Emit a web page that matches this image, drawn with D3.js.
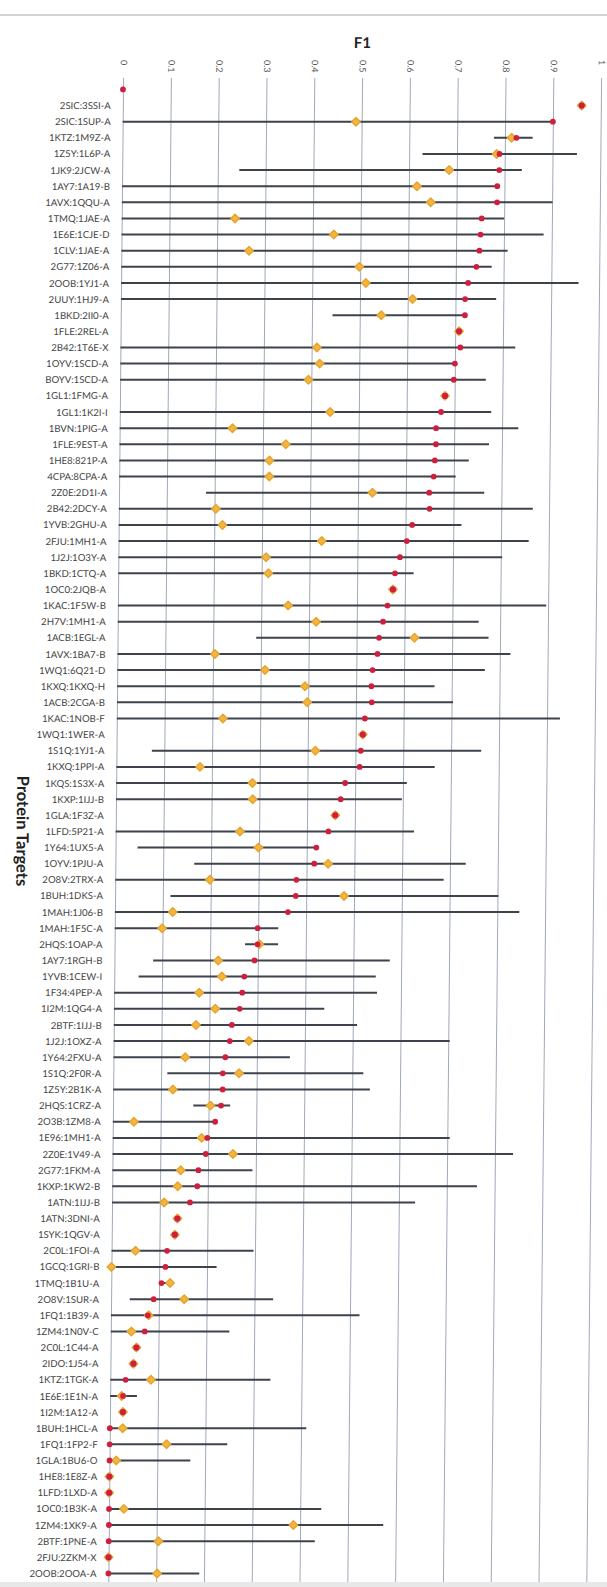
<!DOCTYPE html>
<html>
<head>
<meta charset="utf-8">
<script src="https://cdn.jsdelivr.net/npm/d3@7"></script>
<style>
  html, body { margin: 0; padding: 0; background: #ffffff; }
  svg { display: block; }
  text { font-family: Lato, "Open Sans", "DejaVu Sans", sans-serif; }
</style>
</head>
<body>
<svg id="chart" width="607" height="1587"></svg>
<script>
// Docked protein pairs, one row each (first row is an unlabeled reference point)
const categories = [
  "", "2SIC:3SSI-A", "2SIC:1SUP-A", "1KTZ:1M9Z-A", "1Z5Y:1L6P-A", "1JK9:2JCW-A",
  "1AY7:1A19-B", "1AVX:1QQU-A", "1TMQ:1JAE-A", "1E6E:1CJE-D", "1CLV:1JAE-A",
  "2G77:1Z06-A", "2OOB:1YJ1-A", "2UUY:1HJ9-A", "1BKD:2II0-A", "1FLE:2REL-A",
  "2B42:1T6E-X", "1OYV:1SCD-A", "BOYV:1SCD-A", "1GL1:1FMG-A", "1GL1:1K2I-I",
  "1BVN:1PIG-A", "1FLE:9EST-A", "1HE8:821P-A", "4CPA:8CPA-A", "2Z0E:2D1I-A",
  "2B42:2DCY-A", "1YVB:2GHU-A", "2FJU:1MH1-A", "1J2J:1O3Y-A", "1BKD:1CTQ-A",
  "1OC0:2JQB-A", "1KAC:1F5W-B", "2H7V:1MH1-A", "1ACB:1EGL-A", "1AVX:1BA7-B",
  "1WQ1:6Q21-D", "1KXQ:1KXQ-H", "1ACB:2CGA-B", "1KAC:1NOB-F", "1WQ1:1WER-A",
  "1S1Q:1YJ1-A", "1KXQ:1PPI-A", "1KQS:1S3X-A", "1KXP:1IJJ-B", "1GLA:1F3Z-A",
  "1LFD:5P21-A", "1Y64:1UX5-A", "1OYV:1PJU-A", "2O8V:2TRX-A", "1BUH:1DKS-A",
  "1MAH:1J06-B", "1MAH:1F5C-A", "2HQS:1OAP-A", "1AY7:1RGH-B", "1YVB:1CEW-I",
  "1F34:4PEP-A", "1I2M:1QG4-A", "2BTF:1IJJ-B", "1J2J:1OXZ-A", "1Y64:2FXU-A",
  "1S1Q:2F0R-A", "1Z5Y:2B1K-A", "2HQS:1CRZ-A", "2O3B:1ZM8-A", "1E96:1MH1-A",
  "2Z0E:1V49-A", "2G77:1FKM-A", "1KXP:1KW2-B", "1ATN:1IJJ-B", "1ATN:3DNI-A",
  "1SYK:1QGV-A", "2C0L:1FOI-A", "1GCQ:1GRI-B", "1TMQ:1B1U-A", "2O8V:1SUR-A",
  "1FQ1:1B39-A", "1ZM4:1N0V-C", "2C0L:1C44-A", "2IDO:1J54-A", "1KTZ:1TGK-A",
  "1E6E:1E1N-A", "1I2M:1A12-A", "1BUH:1HCL-A", "1FQ1:1FP2-F", "1GLA:1BU6-O",
  "1HE8:1E8Z-A", "1LFD:1LXD-A", "1OC0:1B3K-A", "1ZM4:1XK9-A", "2BTF:1PNE-A",
  "2FJU:2ZKM-X", "2OOB:2OOA-A"
];

// Red markers: top F1 per target
const topF1 = [
  0, 0.96, 0.90, 0.824, 0.789, 0.789,
  0.785, 0.785, 0.753, 0.751, 0.749,
  0.743, 0.726, 0.72, 0.72, 0.708,
  0.711, 0.70, 0.698, 0.68, 0.672,
  0.662, 0.662, 0.66, 0.658, 0.649,
  0.65, 0.614, 0.603, 0.589, 0.579,
  0.575, 0.564, 0.555, 0.547, 0.544,
  0.534, 0.532, 0.533, 0.519, 0.515,
  0.511, 0.509, 0.479, 0.47, 0.459,
  0.445, 0.42, 0.416, 0.379, 0.378,
  0.362, 0.299, 0.299, 0.293, 0.272,
  0.268, 0.263, 0.247, 0.243, 0.234,
  0.229, 0.229, 0.226, 0.214, 0.198,
  0.195, 0.18, 0.178, 0.163, 0.137,
  0.132, 0.116, 0.113, 0.105, 0.089,
  0.077, 0.071, 0.054, 0.048, 0.032,
  0.027, 0.027, 0, 0, 0,
  0, 0, 0, 0, 0,
  0, 0
];

// Orange markers: average F1 per target
const meanF1 = [
  null, 0.96, 0.488, 0.814, 0.783, 0.684,
  0.617, 0.646, 0.237, 0.444, 0.267,
  0.498, 0.512, 0.61, 0.545, 0.708,
  0.411, 0.417, 0.394, 0.68, 0.44,
  0.236, 0.348, 0.314, 0.314, 0.53,
  0.203, 0.217, 0.425, 0.309, 0.314,
  0.575, 0.356, 0.415, 0.621, 0.204,
  0.309, 0.393, 0.398, 0.222, 0.515,
  0.416, 0.175, 0.285, 0.286, 0.459,
  0.26, 0.299, 0.445, 0.198, 0.479,
  0.121, 0.099, 0.303, 0.217, 0.225,
  0.178, 0.212, 0.172, 0.283, 0.15,
  0.263, 0.125, 0.204, 0.044, 0.186,
  0.252, 0.143, 0.137, 0.109, 0.137,
  0.132, 0.05, 0.0, 0.123, 0.153,
  0.079, 0.043, 0.054, 0.048, 0.085,
  0.024, 0.027, 0.027, 0.119, 0.014,
  0, 0, 0.031, 0.386, 0.104,
  0, 0.102
];

// Horizontal range of F1 values (null where the range collapses to a point)
const rangeLow = [
  null, null, 0, 0.777, 0.628, 0.245,
  0, 0, 0, 0, 0,
  0, 0, 0, 0.443, null,
  0, 0, 0, null, 0,
  0, 0, 0, 0, 0.182,
  0, 0, 0, 0, 0,
  null, 0, 0, 0.29, 0,
  0, 0, 0, 0, null,
  0.074, 0, 0, 0, null,
  0, 0.046, 0.165, 0, 0.116,
  0, 0, 0.273, 0.081, 0.051,
  0, 0, 0, 0, 0,
  0.113, 0, 0.168, 0, 0,
  0, 0, 0, 0, null,
  null, 0, 0, 0.1, 0.039,
  0, 0, null, null, 0,
  0, null, 0, 0, 0,
  null, null, 0, 0, 0,
  null, 0
];
const rangeHigh = [
  null, null, 0.90, 0.858, 0.951, 0.836,
  0.785, 0.901, 0.80, 0.883, 0.808,
  0.775, 0.957, 0.785, 0.72, null,
  0.826, 0.70, 0.765, null, 0.777,
  0.834, 0.773, 0.731, 0.704, 0.764,
  0.866, 0.717, 0.858, 0.803, 0.618,
  null, 0.896, 0.755, 0.776, 0.822,
  0.769, 0.664, 0.703, 0.927, null,
  0.763, 0.666, 0.608, 0.598, null,
  0.624, 0.422, 0.733, 0.687, 0.802,
  0.846, 0.342, 0.342, 0.576, 0.547,
  0.55, 0.44, 0.509, 0.703, 0.369,
  0.523, 0.537, 0.245, 0.214, 0.705,
  0.838, 0.293, 0.763, 0.634, null,
  null, 0.297, 0.22, 0.125, 0.339,
  0.52, 0.248, null, null, 0.335,
  0.056, null, 0.411, 0.246, 0.169,
  null, null, 0.444, 0.574, 0.431,
  null, 0.19
];

const xTicks = [0, 0.1, 0.2, 0.3, 0.4, 0.5, 0.6, 0.7, 0.8, 0.9, 1];
const xTickLabels = ["0", "0.1", "0.2", "0.3", "0.4", "0.5", "0.6", "0.7", "0.8", "0.9", "1"];

const W = 607, H = 1587;
const gridTop = 78, gridBottom = 1582;
const svg = d3.select("#chart");

// page edges
svg.append("line")
  .attr("x1", 0).attr("x2", W).attr("y1", 15).attr("y2", 15)
  .attr("stroke", "#d2d2d2").attr("stroke-width", 2);
svg.append("rect")
  .attr("x", 0).attr("y", gridBottom).attr("width", W).attr("height", H - gridBottom)
  .attr("fill", "#e8e8e8");

// the whole sheet leans slightly to the left towards the bottom
const pivotY = 89;
const g = svg.append("g")
  .attr("transform", `translate(0,${pivotY}) skewX(-0.563) translate(0,${-pivotY})`);

const x = d3.scaleLinear().domain([0, 1]).range([123, 601]);
const rows = d3.range(categories.length);
const y = d3.scalePoint().domain(rows).range([89.4, 1573.4]);

// vertical gridlines + rotated tick labels on top
const xAxis = g.append("g")
  .attr("transform", `translate(0,${gridTop})`)
  .call(d3.axisTop(x)
    .tickValues(xTicks)
    .tickFormat((d, i) => xTickLabels[i])
    .tickSize(-(gridBottom - gridTop))
    .tickPadding(0));
xAxis.select(".domain").remove();
xAxis.selectAll(".tick line")
  .attr("stroke", "#a0a9b8").attr("stroke-width", 1);
xAxis.selectAll(".tick text")
  .attr("transform", "translate(0,-18) rotate(90)")
  .attr("x", 0).attr("y", 0).attr("dy", "0.35em")
  .attr("text-anchor", "start")
  .attr("font-size", 9).attr("fill", "#555");

// axis title
g.append("text")
  .attr("x", (x(0) + x(1)) / 2).attr("y", 48)
  .attr("text-anchor", "middle")
  .attr("font-size", 15).attr("font-weight", 700).attr("fill", "#222")
  .text("F1");

// category labels
const yAxis = g.append("g")
  .attr("transform", `translate(${x(0)},0)`)
  .call(d3.axisLeft(y).tickFormat(i => categories[i]).tickSize(0).tickPadding(12));
yAxis.select(".domain").remove();
yAxis.selectAll(".tick text")
  .attr("font-size", 9.6).attr("fill", "#444");

g.append("text")
  .attr("transform", `translate(24,831) rotate(90)`)
  .attr("text-anchor", "middle")
  .attr("font-size", 16.5).attr("font-weight", 700).attr("fill", "#222")
  .text("Protein Targets");

// F1 ranges
const ranged = rows.filter(i => rangeLow[i] !== null && rangeHigh[i] !== null);
g.append("g").selectAll("line")
  .data(ranged)
  .join("line")
  .attr("x1", i => x(rangeLow[i])).attr("x2", i => x(rangeHigh[i]))
  .attr("y1", i => y(i)).attr("y2", i => y(i))
  .attr("stroke", "#3d424b").attr("stroke-width", 2);

// average markers
const diamond = d3.symbol(d3.symbolDiamond2, 46);
g.append("g").selectAll("path")
  .data(rows.filter(i => meanF1[i] !== null))
  .join("path")
  .attr("d", diamond)
  .attr("transform", i => `translate(${x(meanF1[i])},${y(i)})`)
  .attr("fill", "#f3b63c").attr("stroke", "#e6a230")
  .attr("stroke-width", 1.4).attr("stroke-linejoin", "round");

// top markers
g.append("g").selectAll("circle")
  .data(rows)
  .join("circle")
  .attr("cx", i => x(topF1[i])).attr("cy", i => y(i))
  .attr("r", i => (rangeLow[i] === null && meanF1[i] !== null) ? 3.1 : 2.9)
  .attr("fill", "#cf1f3e");
</script>
</body>
</html>
